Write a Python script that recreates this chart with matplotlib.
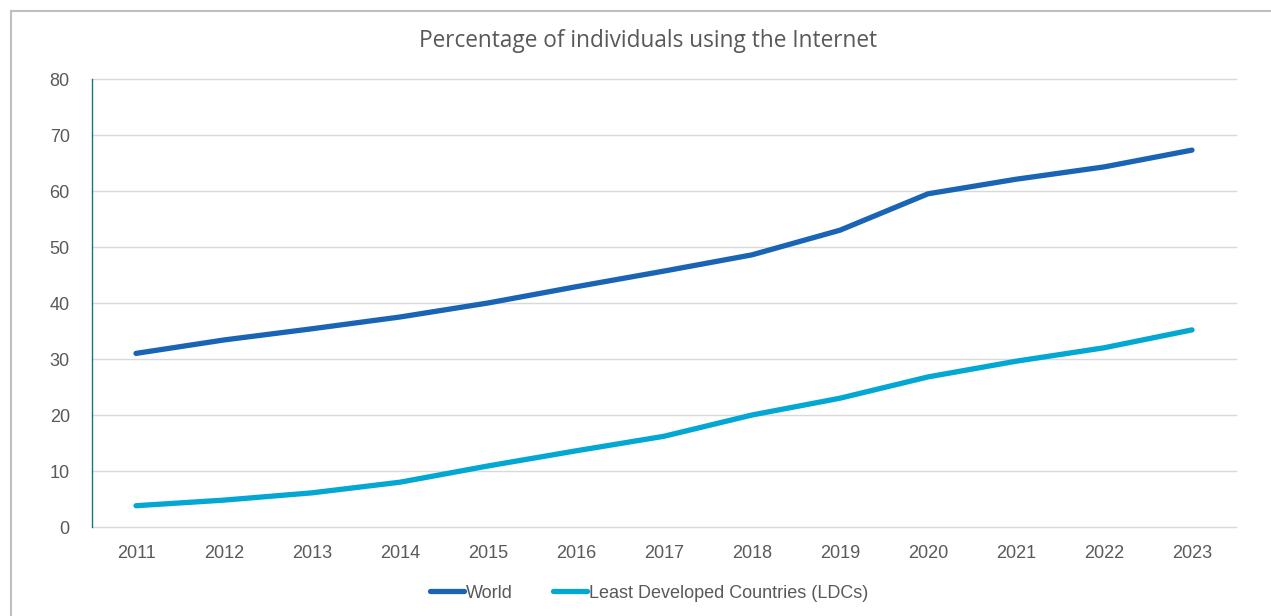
import matplotlib.pyplot as plt
import matplotlib.patches as mpatches

years = ['2011', '2012', '2013', '2014', '2015', '2016', '2017',
         '2018', '2019', '2020', '2021', '2022', '2023']
world = [31.0, 33.4, 35.4, 37.5, 40.0, 42.9, 45.7, 48.6, 53.0, 59.5, 62.1, 64.3, 67.3]
ldc = [3.8, 4.8, 6.1, 8.0, 10.9, 13.6, 16.2, 20.0, 23.0, 26.8, 29.6, 32.0, 35.2]

plt.rcParams['font.family'] = ['Liberation Sans', 'DejaVu Sans']
grey = '#595959'

fig = plt.figure(figsize=(12.71, 6.16), dpi=100)
ax = fig.add_axes([92/1271, 1-527/616, (1236-92)/1271, (527-79)/616])

# outer chart border (only top/left visible in the reference)
fig.patches.append(mpatches.Rectangle((11/1271, -0.1), 1.2, 1-11/616+0.1,
                                      transform=fig.transFigure, fill=False,
                                      edgecolor='#BFBFBF', linewidth=1.5))

x = range(len(years))
ax.plot(x, world, color='#1A64B6', lw=3.8, solid_capstyle='round', label='World')
ax.plot(x, ldc, color='#02A7D4', lw=3.8, solid_capstyle='round',
        label='Least Developed Countries (LDCs)')

ax.set_xlim(-0.5, len(years) - 0.5)
ax.set_ylim(0, 80)
ax.set_yticks(range(0, 81, 10))
ax.set_xticks(list(x))
ax.set_xticklabels(years)
ax.tick_params(axis='both', length=0, labelsize=13, colors=grey)
ax.tick_params(axis='x', pad=13)
ax.tick_params(axis='y', pad=16)

ax.grid(axis='y', color='#D9D9D9', lw=1)
for gl in ax.get_ygridlines():
    gl.set_clip_on(False)
ax.set_axisbelow(True)
for s in ['top', 'right', 'bottom']:
    ax.spines[s].set_visible(False)
ax.spines['left'].set_color('#1F6E8C')
ax.spines['left'].set_linewidth(1)
ax.spines['left'].set_zorder(3)

fig.text(648/1271, 1-41/616, 'Percentage of individuals using the Internet',
         ha='center', va='center', fontsize=16.3, color=grey,
         family=['Open Sans', 'DejaVu Sans'])

leg = fig.legend(loc='center', bbox_to_anchor=(649/1271, 1-593/616), ncol=2,
                 frameon=False, fontsize=13, handlelength=1.9, handletextpad=0.1,
                 columnspacing=2.2)
for t in leg.get_texts():
    t.set_color(grey)

fig.savefig('out.png', dpi=100, facecolor='white')
